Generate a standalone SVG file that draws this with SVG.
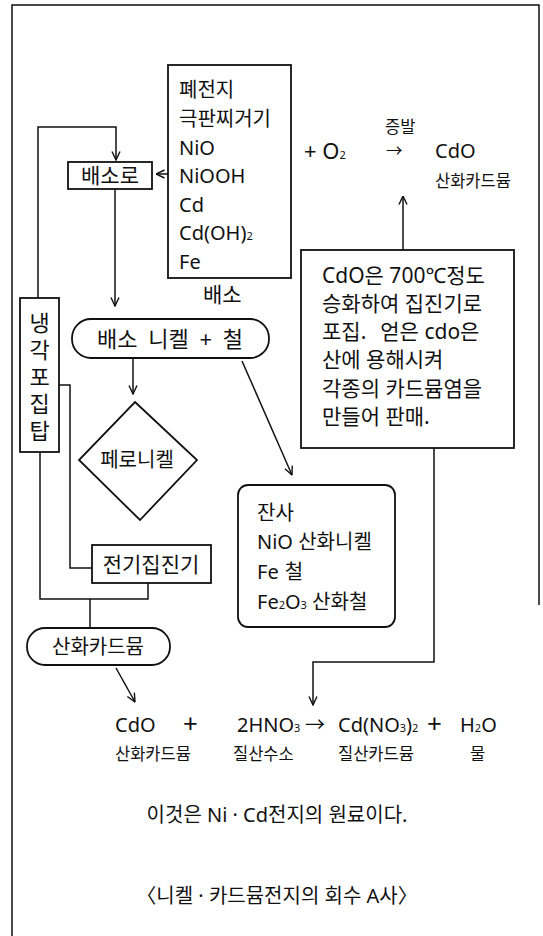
<svg xmlns="http://www.w3.org/2000/svg" width="543" height="936" viewBox="0 0 543 936">
<style>
text{font-family:"Noto Sans","Noto Sans CJK KR",sans-serif;fill:#111;}
.f20{font-size:20px}
.f21{font-size:21px}
.f22{font-size:22px}
.f16{font-size:16.5px}
.f26{font-size:26px}
.box{fill:none;stroke:#111;stroke-width:1.8}
.ln{fill:none;stroke:#111;stroke-width:1.5}
.sub{font-size:11px}
</style>
<defs>
<marker id="ah" viewBox="0 0 10 10" refX="9.5" refY="5" markerWidth="10" markerHeight="10" markerUnits="userSpaceOnUse" orient="auto">
<path d="M1,1 L9.5,5 L1,9" fill="none" stroke="#111" stroke-width="1.4"/>
</marker>
</defs>
<rect width="543" height="936" fill="#fff"/>
<g id="frame">
<path class="ln" d="M12,936 L12,5 L539,5 L539,605"/>
</g>
<g id="connectors">
<polyline class="ln" points="38,298 38,127 116,127 116,160" marker-end="url(#ah)"/>
<line class="ln" x1="115" y1="189" x2="115" y2="306" marker-end="url(#ah)"/>
<line class="ln" x1="168" y1="174" x2="156" y2="174" marker-end="url(#ah)"/>
<line class="ln" x1="133" y1="358" x2="133" y2="394" marker-end="url(#ah)"/>
<line class="ln" x1="242" y1="361" x2="292" y2="475" marker-end="url(#ah)"/>
<polyline class="ln" points="59,385 70,385 70,568 92,568"/>
<polyline class="ln" points="40,452 40,599 148,599 148,583"/>
<line class="ln" x1="90" y1="599" x2="90" y2="628"/>
<line class="ln" x1="116" y1="668" x2="135" y2="702" marker-end="url(#ah)"/>
<polyline class="ln" points="434,448 434,662 313,662 313,705" marker-end="url(#ah)"/>
<line class="ln" x1="403" y1="250" x2="403" y2="196" marker-end="url(#ah)"/>
</g>
<g id="input">
<rect class="box" x="168" y="65" width="123" height="213"/>
<text class="f20" x="179" y="97">폐전지</text>
<text class="f20" x="179" y="126">극판찌거기</text>
<text class="f20" x="179" y="155">NiO</text>
<text class="f20" x="179" y="183">NiOOH</text>
<text class="f20" x="179" y="212">Cd</text>
<text class="f20" x="179" y="240">Cd(OH)<tspan class="sub">2</tspan></text>
<text class="f20" x="179" y="269">Fe</text>
<text class="f21" x="203" y="302">배소</text>
</g>
<g id="o2">
<text class="f22" x="304" y="159">+ O<tspan class="sub">2</tspan></text>
<text class="f16" x="385" y="133">증발</text>
<text class="f16" x="386" y="157">→</text>
</g>
<g id="cdo-top">
<text class="f20" x="435" y="158">CdO</text>
<text class="f16" x="435" y="187">산화카드뮴</text>
</g>
<g id="baesoro">
<rect class="box" x="68" y="162" width="84" height="27"/>
<text class="f21" x="110" y="183" text-anchor="middle">배소로</text>
</g>
<g id="note">
<rect class="box" x="301" y="250" width="213" height="198"/>
<text class="f21" x="322" y="283">CdO은 700℃정도</text>
<text class="f21" x="322" y="311">승화하여 집진기로</text>
<text class="f21" x="322" y="339">포집.<tspan dx="14">얻은 cdo은</tspan></text>
<text class="f21" x="322" y="367">산에 용해시켜</text>
<text class="f21" x="322" y="396">각종의 카드뮴염을</text>
<text class="f21" x="322" y="424">만들어 판매.</text>
</g>
<g id="roast">
<rect class="box" x="72" y="319" width="197" height="39" rx="19"/>
<text class="f22" x="170" y="347" text-anchor="middle" word-spacing="5">배소 니켈 + 철</text>
</g>
<g id="cooler">
<rect class="box" x="20" y="298" width="39" height="154"/>
<text class="f22" x="39.5" y="331" text-anchor="middle">냉</text>
<text class="f22" x="39.5" y="358" text-anchor="middle">각</text>
<text class="f22" x="39.5" y="385" text-anchor="middle">포</text>
<text class="f22" x="39.5" y="412" text-anchor="middle">집</text>
<text class="f22" x="39.5" y="439" text-anchor="middle">탑</text>
</g>
<g id="ferronickel">
<polygon class="box" points="135,402 197,460 140,520 79,460"/>
<text class="f20" x="137" y="467" text-anchor="middle">페로니켈</text>
</g>
<g id="residue">
<rect class="box" x="238" y="485" width="157" height="142" rx="10"/>
<text class="f20" x="257" y="520">잔사</text>
<text class="f20" x="257" y="549">NiO 산화니켈</text>
<text class="f20" x="257" y="579">Fe<tspan dx="6">철</tspan></text>
<text class="f20" x="257" y="609">Fe<tspan class="sub">2</tspan>O<tspan class="sub">3</tspan> 산화철</text>
</g>
<g id="esp">
<rect class="box" x="92" y="545" width="119" height="38"/>
<text class="f21" x="151" y="572" text-anchor="middle">전기집진기</text>
</g>
<g id="cdo-node">
<rect class="box" x="27" y="628" width="143" height="37" rx="18"/>
<text class="f20" x="98" y="654" text-anchor="middle">산화카드뮴</text>
</g>
<g id="equation">
<text class="f20" x="115" y="732">CdO</text>
<text class="f26" x="183" y="733">+</text>
<text class="f20" x="237" y="732">2HNO<tspan class="sub">3</tspan></text>
<text class="f20" x="305" y="732">→</text>
<text class="f20" x="338" y="732">Cd(NO<tspan class="sub">3</tspan>)<tspan class="sub">2</tspan></text>
<text class="f26" x="427" y="733">+</text>
<text class="f20" x="460" y="732">H<tspan class="sub">2</tspan>O</text>
<text class="f16" x="115" y="760">산화카드뮴</text>
<text class="f16" x="233" y="760">질산수소</text>
<text class="f16" x="338" y="760">질산카드뮴</text>
<text class="f16" x="470" y="760">물</text>
</g>
<g id="caption">
<text class="f20" x="277" y="822" text-anchor="middle">이것은 Ni · Cd전지의 원료이다.</text>
<text class="f20" x="277" y="903" text-anchor="middle">〈니켈 · 카드뮴전지의 회수 A사〉</text>
</g>
</svg>
